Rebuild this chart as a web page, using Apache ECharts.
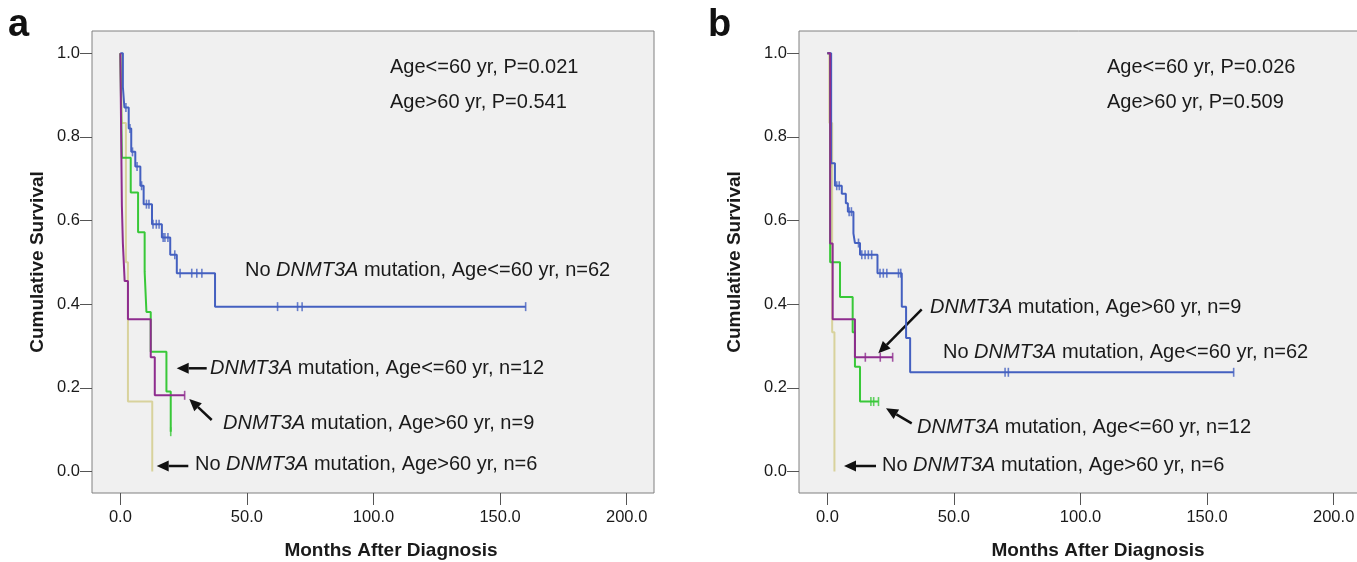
<!DOCTYPE html>
<html>
<head>
<meta charset="utf-8">
<script src="https://cdn.jsdelivr.net/npm/echarts@6/dist/echarts.min.js"></script>
<style>
  html, body { margin: 0; padding: 0; background: #fff; }
  #chart { width: 1357px; height: 562px; }
</style>
</head>
<body>
<div id="chart"></div>
<script>
// ticks
const xTicks = [0, 50, 100, 150, 200];
const yTicks = [0, 0.2, 0.4, 0.6, 0.8, 1.0];

// panel a (months, survival after each step)
const aYellowT = [0, 0.6, 2.2, 3.0, 12.6];
const aYellowS = [1, 0.833, 0.5, 0.167, 0];
const aGreenT = [0, 0.6, 4.1, 7.0, 9.6, 10.3, 12.0, 18.2, 19.9];
const aGreenS = [1, 0.75, 0.667, 0.572, 0.477, 0.381, 0.286, 0.191, 0.095];
const aGreenCens = [19.9];
const aBlueT = [0, 1.0, 1.6, 3.3, 4.3, 5.9, 7.9, 9.2, 12.5, 16.4, 19.7, 22.3, 37.4, 160.1];
const aBlueS = [1, 0.919, 0.870, 0.820, 0.764, 0.729, 0.683, 0.639, 0.591, 0.559, 0.518, 0.474, 0.394, 0.394];
const aBlueCens = [2.2, 3.8, 4.8, 6.6, 8.4, 10.3, 11.3, 12.9, 14.2, 15.3, 16.9, 17.6, 18.8, 21.5, 23.6, 28.2, 30.2, 32.2, 62.1, 70.0, 71.8, 160.1];
const aPurpleT = [0, 0.6, 1.0, 1.7, 3.0, 12.0, 13.6, 25.4];
const aPurpleS = [1, 0.636, 0.545, 0.455, 0.364, 0.273, 0.182, 0.182];
const aPurpleCens = [25.4];

// panel b
const bYellowT = [0, 0.8, 1.9, 2.8];
const bYellowS = [1, 0.833, 0.333, 0];
const bGreenT = [0, 1.1, 5.0, 10.0, 10.9, 12.9, 20.2];
const bGreenS = [1, 0.5, 0.417, 0.333, 0.25, 0.167, 0.167];
const bGreenCens = [17.2, 18.3, 20.2];
const bBlueT = [0, 1.5, 3.0, 5.7, 7.3, 8.1, 10.3, 10.9, 12.9, 19.8, 29.4, 31.1, 32.7, 160.5];
const bBlueS = [1, 0.737, 0.683, 0.664, 0.641, 0.621, 0.569, 0.546, 0.518, 0.474, 0.394, 0.319, 0.237, 0.237];
const bBlueCens = [1.8, 3.7, 4.7, 8.6, 9.5, 12.3, 13.6, 14.9, 16.2, 17.5, 20.8, 22.1, 23.5, 28.1, 29.0, 70.2, 71.5, 160.5];
const bPurpleT = [0, 1.1, 2.1, 10.9, 25.8];
const bPurpleS = [1, 0.545, 0.364, 0.273, 0.273];
const bPurpleCens = [15.0, 20.9, 25.8];

const FONT = '"Liberation Sans", Arial, sans-serif';
const TXT = '#1a1a1a';
const C_BLUE = '#4460c0', C_GREEN = '#38c838', C_PURPLE = '#8e2c8e', C_YELLOW = '#d8d29c';

function pairs(t, s) { return t.map((v, i) => [v, s[i]]) }
// survival level of a curve at time x (for placing censor ticks)
function levelAt(t, s, x) {
  let v = s[0]
  for (let i = 0; i < t.length; i++) { if (t[i] <= x) v = s[i] }
  return v
}

function curve(t, s, color, gi) {
  return {
    type: 'line', step: 'end', xAxisIndex: gi, yAxisIndex: gi,
    data: pairs(t, s), showSymbol: false, silent: true,
    lineStyle: { color: color, width: 2 },
  }
}
function censors(t, s, cens, color, gi) {
  return {
    type: 'scatter', xAxisIndex: gi, yAxisIndex: gi, silent: true,
    symbol: 'rect', symbolSize: [1.6, 9],
    itemStyle: { color: color },
    data: cens.map(c => [c, levelAt(t, s, c)]),
  }
}

function xAx(gi) {
  return {
    type: 'value', gridIndex: gi, min: -11.2, max: 210.8,
    name: 'Months After Diagnosis', nameLocation: 'middle', nameGap: 48,
    nameTextStyle: { fontFamily: FONT, fontSize: 19, fontWeight: 'bold', color: TXT, padding: [0, 0, 0, 36] },
    axisLine: { show: false, onZero: false },
    axisTick: { show: true, length: 12, customValues: xTicks, lineStyle: { color: '#555' } },
    axisLabel: { customValues: xTicks, formatter: v => v.toFixed(1), fontFamily: FONT, fontSize: 16.5, color: TXT, margin: 16 },
    splitLine: { show: false },
  }
}
function yAx(gi, gap) {
  return {
    type: 'value', gridIndex: gi, min: -0.0516, max: 1.053,
    name: 'Cumulative Survival', nameLocation: 'middle', nameGap: gap,
    nameTextStyle: { fontFamily: FONT, fontSize: 19, fontWeight: 'bold', color: TXT },
    axisLine: { show: false, onZero: false },
    axisTick: { show: true, length: 12, customValues: yTicks, lineStyle: { color: '#555' } },
    axisLabel: { customValues: yTicks, formatter: v => v.toFixed(1), fontFamily: FONT, fontSize: 16.5, color: TXT, margin: 12 },
    splitLine: { show: false },
  }
}

function label(x, y, text, size) {
  return {
    type: 'text', x: x, y: y, silent: true,
    style: {
      text: text, fontFamily: FONT, fontSize: size || 20, fill: TXT,
      verticalAlign: 'middle', align: 'left',
      rich: { i: { fontStyle: 'italic', fontFamily: FONT, fontSize: size || 20, fill: TXT } },
    },
  }
}
function arrow(x1, y1, x2, y2) {
  const ang = Math.atan2(y2 - y1, x2 - x1)
  const L = 12, W = 5.5
  const bx = x2 - L * Math.cos(ang), by = y2 - L * Math.sin(ang)
  const px = -Math.sin(ang) * W, py = Math.cos(ang) * W
  return [
    { type: 'line', silent: true, shape: { x1: x1, y1: y1, x2: bx, y2: by }, style: { stroke: '#111', lineWidth: 2.5 } },
    { type: 'polygon', silent: true, shape: { points: [[x2, y2], [bx + px, by + py], [bx - px, by - py]] }, style: { fill: '#111' } },
  ]
}

const chart = echarts.init(document.getElementById('chart'))
const option = {
  animation: false,
  backgroundColor: '#fff',
  grid: [
    { left: 92, top: 31, width: 562, height: 462, outerBoundsMode: 'none', show: true, backgroundColor: '#f0f0f0', borderColor: '#808080', borderWidth: 1 },
    { left: 799, top: 31, width: 562, height: 462, outerBoundsMode: 'none', show: true, backgroundColor: '#f0f0f0', borderColor: '#808080', borderWidth: 1 },
  ],
  xAxis: [xAx(0), xAx(1)],
  yAxis: [yAx(0, 45), yAx(1, 55)],
  series: [
    curve(aYellowT, aYellowS, C_YELLOW, 0),
    curve(aGreenT, aGreenS, C_GREEN, 0),
    censors(aGreenT, aGreenS, aGreenCens, C_GREEN, 0),
    curve(aBlueT, aBlueS, C_BLUE, 0),
    censors(aBlueT, aBlueS, aBlueCens, C_BLUE, 0),
    curve(aPurpleT, aPurpleS, C_PURPLE, 0),
    censors(aPurpleT, aPurpleS, aPurpleCens, C_PURPLE, 0),

    curve(bYellowT, bYellowS, C_YELLOW, 1),
    curve(bGreenT, bGreenS, C_GREEN, 1),
    censors(bGreenT, bGreenS, bGreenCens, C_GREEN, 1),
    curve(bBlueT, bBlueS, C_BLUE, 1),
    censors(bBlueT, bBlueS, bBlueCens, C_BLUE, 1),
    curve(bPurpleT, bPurpleS, C_PURPLE, 1),
    censors(bPurpleT, bPurpleS, bPurpleCens, C_PURPLE, 1),
  ],
  graphic: [].concat(
    [
      { type: 'text', x: 8, y: 26, silent: true, style: { text: 'a', fontFamily: FONT, fontSize: 38, fontWeight: 'bold', fill: '#111', verticalAlign: 'middle' } },
      { type: 'text', x: 708, y: 26, silent: true, style: { text: 'b', fontFamily: FONT, fontSize: 38, fontWeight: 'bold', fill: '#111', verticalAlign: 'middle' } },
      label(390, 67, 'Age<=60 yr, P=0.021'),
      label(390, 102, 'Age>60 yr, P=0.541'),
      label(245, 270, 'No {i|DNMT3A} mutation, Age<=60 yr, n=62'),
      label(210, 368, '{i|DNMT3A} mutation, Age<=60 yr, n=12'),
      label(223, 423, '{i|DNMT3A} mutation, Age>60 yr, n=9'),
      label(195, 464, 'No {i|DNMT3A} mutation, Age>60 yr, n=6'),
      label(1107, 67, 'Age<=60 yr, P=0.026'),
      label(1107, 102, 'Age>60 yr, P=0.509'),
      label(930, 307, '{i|DNMT3A} mutation, Age>60 yr, n=9'),
      label(943, 352, 'No {i|DNMT3A} mutation, Age<=60 yr, n=62'),
      label(917, 427, '{i|DNMT3A} mutation, Age<=60 yr, n=12'),
      label(882, 465, 'No {i|DNMT3A} mutation, Age>60 yr, n=6'),
    ],
    arrow(206.7, 368.3, 176.7, 368.3),
    arrow(211.7, 420, 189.3, 399),
    arrow(188.3, 466, 156.7, 466),
    arrow(921.7, 309.3, 878.3, 353.3),
    arrow(911.7, 423.3, 886, 408.3),
    arrow(876, 466, 844, 466)
  ),
}
chart.setOption(option)
</script>
</body>
</html>
